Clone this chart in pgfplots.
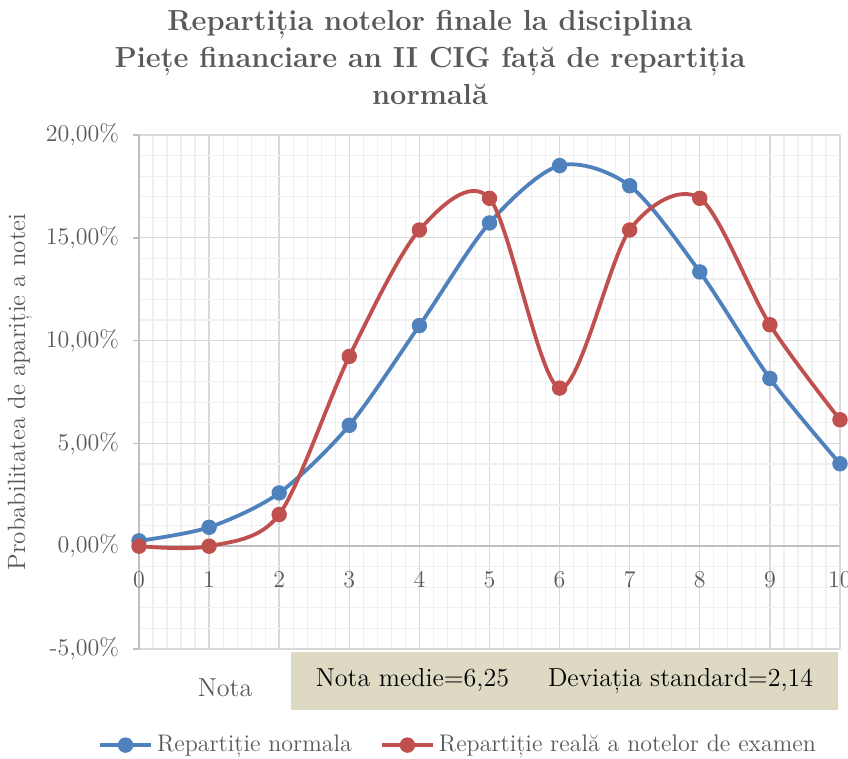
\documentclass[border=0pt]{standalone}
\usepackage{fontspec}
\usepackage{pgfplots}
\pgfplotsset{compat=1.18}
\definecolor{cblue}{HTML}{4F81BD}
\definecolor{cred}{HTML}{C0504D}
\definecolor{txtgray}{HTML}{595959}
\definecolor{axgray}{HTML}{BFBFBF}
\definecolor{majgrid}{HTML}{D9D9D9}
\definecolor{mingrid}{HTML}{F0F0F0}
\definecolor{boxtan}{HTML}{DDD9C3}
\begin{document}
\begin{tikzpicture}
\begin{axis}[
  scale only axis,
  width=350.5pt, height=257pt,
  xmin=0, xmax=10, ymin=-5, ymax=20,
  axis x line=middle, axis y line=left,
  hide obscured x ticks=false,
  axis line style={-, draw=axgray, line width=0.8pt},
  xtick={0,1,...,10}, ytick={-5,0,5,10,15,20},
  minor x tick num=4, minor y tick num=4,
  grid=both,
  major grid style={draw=majgrid, line width=0.7pt},
  minor grid style={draw=mingrid, line width=0.6pt},
  tick align=outside,
  major tick length=3pt, minor tick length=0pt,
  tick style={draw=axgray, line width=0.8pt},
  xtick style={draw=none},
  /pgf/number format/assume math mode=true,
  ticklabel style={font=\fontsize{12}{14}\selectfont, text=txtgray},
  yticklabel={\pgfmathprintnumber[fixed,fixed zerofill,precision=2,use comma]{\tick}\%},
  yticklabel style={xshift=-3.5pt},
  xticklabel style={yshift=-6pt},
  ylabel={Probabilitatea de apariție a notei},
  every axis y label/.style={at={(axis description cs:-0.1698,0.5)}, rotate=90, anchor=center},
  ylabel style={font=\fontsize{12.5}{14}\selectfont, text=txtgray},
  xlabel={Nota},
  every axis x label/.style={at={(axis description cs:0.1227,-0.0759)}, anchor=center},
  xlabel style={font=\fontsize{13}{15}\selectfont, text=txtgray},
  clip=false,
  legend columns=2,
  legend style={at={(axis description cs:0.4565,-0.187)}, anchor=center, draw=none, fill=none,
    font=\fontsize{12}{14}\selectfont, text=txtgray,
    /tikz/every even column/.append style={column sep=12pt}},
  legend image code/.code={\draw[mark repeat=2,mark phase=2,#1] plot coordinates {(0cm,0cm) (0.45cm,0cm) (0.9cm,0cm)};},
]
\addplot[cblue, line width=1.9pt, smooth, mark=*, mark size=3.6pt, mark options={fill=cblue, draw=cblue, line width=0.5pt}]
  coordinates {(0,0.26) (1,0.92) (2,2.59) (3,5.88) (4,10.73) (5,15.72) (6,18.51) (7,17.53) (8,13.34) (9,8.16) (10,4.01)};
\addlegendentry{Repartiție normala}
\addplot[cred, line width=1.9pt, smooth, mark=*, mark size=3.6pt, mark options={fill=cred, draw=cred, line width=0.5pt}]
  coordinates {(0,0) (1,0) (2,1.54) (3,9.23) (4,15.38) (5,16.92) (6,7.69) (7,15.38) (8,16.92) (9,10.77) (10,6.15)};
\addlegendentry{Repartiție reală a notelor de examen}
\end{axis}
\fill[boxtan] (76pt,-1.5pt) rectangle (349.5pt,-30.5pt);
\node[font=\fontsize{13}{15}\selectfont, text=black] at (212.75pt,-16pt) {Nota medie=6,25\hspace{1.5em}Deviația standard=2,14};
\node[font=\bfseries\fontsize{14.5}{18.5}\selectfont, text=txtgray, align=center] at (145.5pt,296pt)
  {Repartiția notelor finale la disciplina\\Piețe financiare an II CIG față de repartiția\\normală};
\pgfresetboundingbox
\path[use as bounding box] (-69.5pt,-55pt) rectangle (354.5pt,324.5pt);
\end{tikzpicture}
\end{document}
